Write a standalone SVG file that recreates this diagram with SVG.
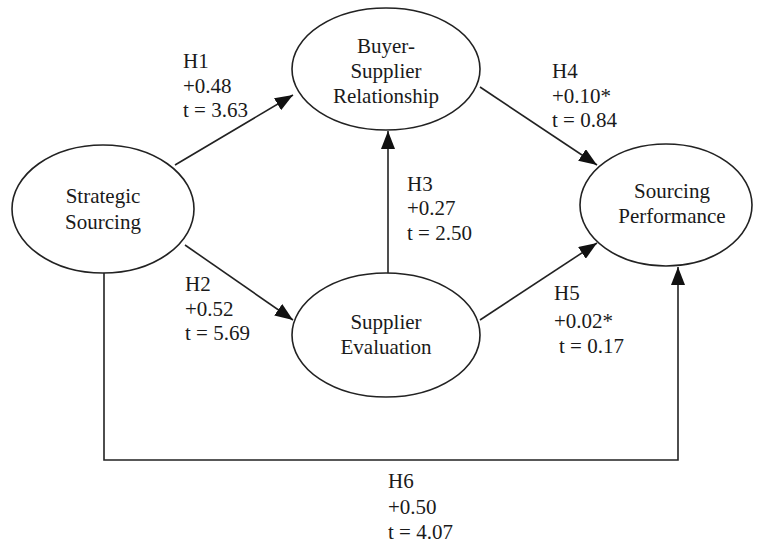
<svg xmlns="http://www.w3.org/2000/svg" width="757" height="544" viewBox="0 0 757 544">
<defs>
<marker id="ah" viewBox="0 0 18 14" refX="18" refY="7" markerWidth="18" markerHeight="14" markerUnits="userSpaceOnUse" orient="auto">
<path d="M0,0 L18,7 L0,14 z" fill="#111"/>
</marker>
</defs>
<g id="connectors" stroke="#222" stroke-width="1.6" fill="none">
<line x1="175" y1="165" x2="293" y2="95" marker-end="url(#ah)"/>
<line x1="185" y1="245" x2="293" y2="320" marker-end="url(#ah)"/>
<line x1="388" y1="273" x2="388" y2="131" marker-end="url(#ah)"/>
<line x1="480" y1="87" x2="597" y2="165" marker-end="url(#ah)"/>
<line x1="480" y1="320" x2="597" y2="243" marker-end="url(#ah)"/>
<polyline points="104,273 104,460 678,460 678,267" marker-end="url(#ah)"/>
</g>
<g font-family="Times New Roman, Liberation Serif, serif" font-size="21" fill="#1a1a1a">
<g id="strategic-sourcing">
<ellipse cx="103" cy="209" rx="91" ry="64" fill="#fff" stroke="#222" stroke-width="1.6"/>
<text text-anchor="middle" x="103" y="203">Strategic</text>
<text text-anchor="middle" x="103" y="229">Sourcing</text>
</g>
<g id="buyer-supplier">
<ellipse cx="386" cy="69" rx="94" ry="61" fill="#fff" stroke="#222" stroke-width="1.6"/>
<text text-anchor="middle" x="386" y="53">Buyer-</text>
<text text-anchor="middle" x="386" y="78">Supplier</text>
<text text-anchor="middle" x="386" y="103">Relationship</text>
</g>
<g id="supplier-evaluation">
<ellipse cx="386" cy="335" rx="94" ry="62" fill="#fff" stroke="#222" stroke-width="1.6"/>
<text text-anchor="middle" x="386" y="329">Supplier</text>
<text text-anchor="middle" x="386" y="354">Evaluation</text>
</g>
<g id="sourcing-performance">
<ellipse cx="666" cy="205" rx="86" ry="61" fill="#fff" stroke="#222" stroke-width="1.6"/>
<text text-anchor="middle" x="672" y="198">Sourcing</text>
<text text-anchor="middle" x="672" y="223">Performance</text>
</g>
<g id="labels">
<text x="183" y="68">H1</text>
<text x="183" y="93">+0.48</text>
<text x="183" y="117">t = 3.63</text>
<text x="185" y="291">H2</text>
<text x="185" y="316">+0.52</text>
<text x="185" y="340">t = 5.69</text>
<text x="407" y="191">H3</text>
<text x="407" y="215">+0.27</text>
<text x="407" y="240">t = 2.50</text>
<text x="552" y="78">H4</text>
<text x="552" y="103">+0.10*</text>
<text x="552" y="127">t = 0.84</text>
<text x="554" y="300">H5</text>
<text x="554" y="328">+0.02*</text>
<text x="559" y="353">t = 0.17</text>
<text x="388" y="488">H6</text>
<text x="388" y="514">+0.50</text>
<text x="388" y="539">t = 4.07</text>
</g>
</g>
</svg>
